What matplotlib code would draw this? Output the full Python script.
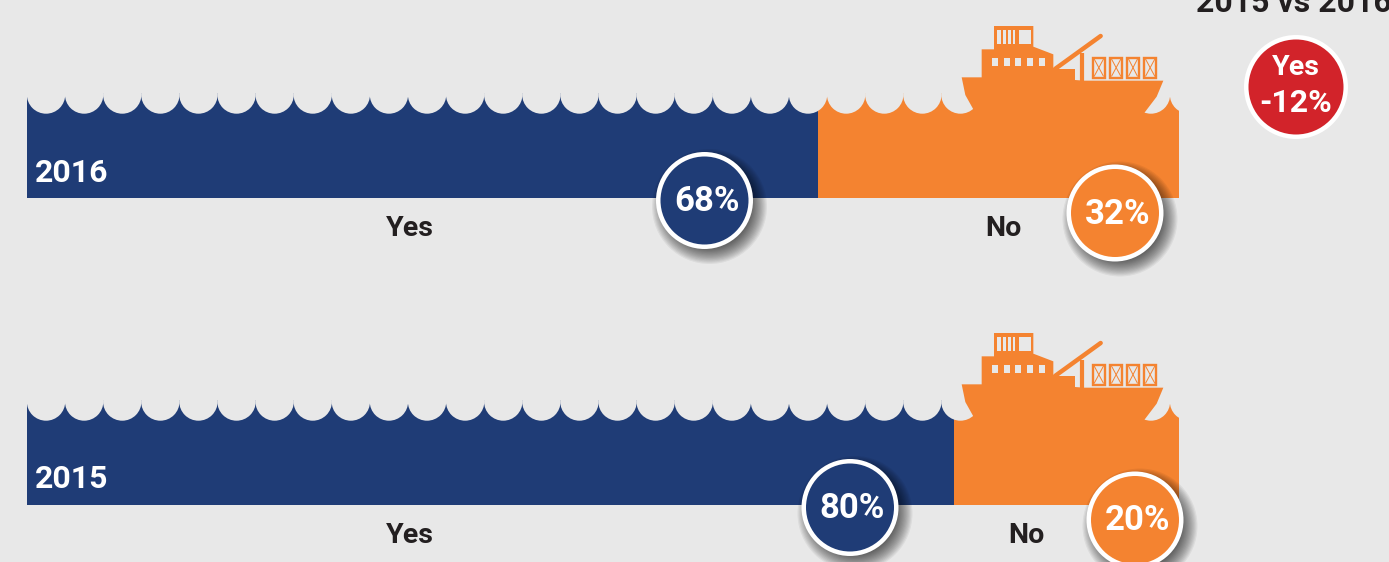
import matplotlib
matplotlib.use("Agg")
import matplotlib.pyplot as plt
from matplotlib.patches import Circle, Polygon, Rectangle

W, H = 1389, 562
BG, NAVY, ORANGE, RED, INK = "#E8E8E8", "#1F3C76", "#F48330", "#D2232A", "#231F20"

# Data
years = ["2016", "2015"]
yes_bar_share = [68.7, 80.5]       # bar lengths
no_bar_share = [31.3, 19.5]
yes_labels = ["68%", "80%"]
no_labels = ["32%", "20%"]
category_labels = ["Yes", "No"]
change_title = "2015 vs 2016"
change_labels = ["Yes", "-12%"]

# Layout (pixels)
BAR_L, BAR_W = 27, 1152
BAR_TOP, BAR_BOTTOM = 93, 198
ROW_STEP = 307
WAVE_STEP = 38.1
yes_badge_xy = [(704.5, 200.5), (850, 507.5)]
no_badge_xy = [(1115, 213), (1135, 520)]
no_label_x = [1003, 1026]

fig = plt.figure(figsize=(W / 100, H / 100), dpi=100, facecolor=BG)

# Bars on a 0-100 share axis
axb = fig.add_axes([BAR_L / W, 0, BAR_W / W, 1])
axb.set_xlim(0, 100)
axb.set_ylim(H, 0)
axb.axis("off")
for i in range(len(years)):
    top = BAR_TOP + i * ROW_STEP
    h = BAR_BOTTOM - BAR_TOP
    axb.barh(top + h / 2, yes_bar_share[i], height=h, left=0, color=NAVY, lw=0)
    axb.barh(top + h / 2, no_bar_share[i], height=h, left=yes_bar_share[i], color=ORANGE, lw=0)

# Overlay in pixels
ax = fig.add_axes([0, 0, 1, 1], facecolor="none")
ax.set_xlim(0, W)
ax.set_ylim(H, 0)
ax.axis("off")


def ship(dy):
    def P(pts):
        return [(940 + x / 3, y / 3 + dy) for x, y in pts]
    body = [(65, 232), (125, 232), (125, 148), (162, 148), (162, 78), (280, 78), (280, 140),
            (340, 163), (340, 207), (405, 207), (405, 240), (432, 242), (670, 242),
            (650, 290), (612, 340), (590, 370), (130, 370), (100, 328), (76, 285)]
    ax.add_patch(Polygon(P(body), closed=True, fc=ORANGE, ec="none", zorder=5))
    # crane
    ax.plot(*zip(*P([(345, 207), (482, 108)])), color=ORANGE, lw=3.2, solid_capstyle="round", zorder=5)
    ax.plot(*zip(*P([(425, 158), (425, 242)])), color=ORANGE, lw=3.0, solid_capstyle="butt", zorder=5)
    # bridge windows
    for x0, x1 in [(172, 183), (189, 198), (203, 212), (218, 226), (238, 272)]:
        ax.add_patch(Rectangle(P([(x0, 91)])[0], (x1 - x0) / 3, 41 / 3, fc=BG, ec="none", zorder=6))
    # portholes
    for x0 in [155, 191, 226, 262, 297]:
        ax.add_patch(Rectangle(P([(x0, 173)])[0], 18 / 3, 24 / 3, fc=BG, ec="none", zorder=6))
    # containers
    for x0, x1 in [(454, 499), (506, 551), (557, 601), (608, 653)]:
        ax.add_patch(Rectangle(P([(x0 + 4, 173)])[0], (x1 - x0 - 8) / 3, 60 / 3, fc="none", ec=ORANGE, lw=1.7, zorder=6))
        ax.plot(*zip(*P([(x0 + 9, 178), (x1 - 9, 228)])), color=ORANGE, lw=0.7, zorder=6)
        ax.plot(*zip(*P([(x1 - 9, 178), (x0 + 9, 228)])), color=ORANGE, lw=0.7, zorder=6)


def badge(x, y, r_outer, r_inner, color, shadow=True):
    if shadow:
        for k in range(14):
            ax.add_patch(Circle((x + 5, y + 6), r_outer + 9 - k * 1.2, fc="black", ec="none",
                                alpha=0.055, zorder=8))
    ax.add_patch(Circle((x, y), r_outer, fc="white", ec="none", zorder=9))
    ax.add_patch(Circle((x, y), r_inner, fc=color, ec="none", zorder=10))


for i, year in enumerate(years):
    dy = i * ROW_STEP
    # scalloped waves cut from the top of the bar
    for n in range(31):
        ax.add_patch(Circle((BAR_L + WAVE_STEP * (n + 0.5), BAR_TOP + 1.5 + dy), 19.2,
                            fc=BG, ec="none", zorder=3))
    ax.add_patch(Rectangle((BAR_L + BAR_W, BAR_TOP - 5 + dy), 40, 40, fc=BG, ec="none", zorder=3.5))
    ship(dy)
    ax.text(34.5, 169.5 + dy, year, color="white", family="Roboto", weight="bold", fontsize=23,
            ha="left", va="center_baseline", zorder=7)
    ax.text(410, 225.5 + dy, category_labels[0], color=INK, family="Roboto", weight="bold", fontsize=20.5,
            ha="center", va="center_baseline", zorder=7)
    ax.text(no_label_x[i], 225.5 + dy, category_labels[1], color=INK, family="Roboto", weight="bold", fontsize=20.5,
            ha="center", va="center_baseline", zorder=7)
    xa, ya = yes_badge_xy[i]
    badge(xa, ya, 48.5, 44, NAVY)
    ax.text(xa + 2.5, ya - 2.5, yes_labels[i], color="white", family="Roboto", weight="bold", fontsize=25,
            ha="center", va="center_baseline", zorder=11)
    xb, yb = no_badge_xy[i]
    badge(xb, yb, 48.5, 44, ORANGE)
    ax.text(xb + 3, yb - 2.5, no_labels[i], color="white", family="Roboto", weight="bold", fontsize=25,
            ha="center", va="center_baseline", zorder=11)

# Change panel
ax.text(1196, 0.5, change_title, color=INK, family="Roboto", weight="bold", fontsize=23,
        ha="left", va="center_baseline", zorder=7)
badge(1296, 87, 52, 47.5, RED, shadow=False)
ax.text(1296, 64.5, change_labels[0], color="white", family="Roboto", weight="bold", fontsize=20.5,
        ha="center", va="center_baseline", zorder=11)
ax.text(1295.5, 99.5, change_labels[1], color="white", family="Roboto", weight="bold", fontsize=23,
        ha="center", va="center_baseline", zorder=11)

fig.savefig("out.png", dpi=100, facecolor=BG)
